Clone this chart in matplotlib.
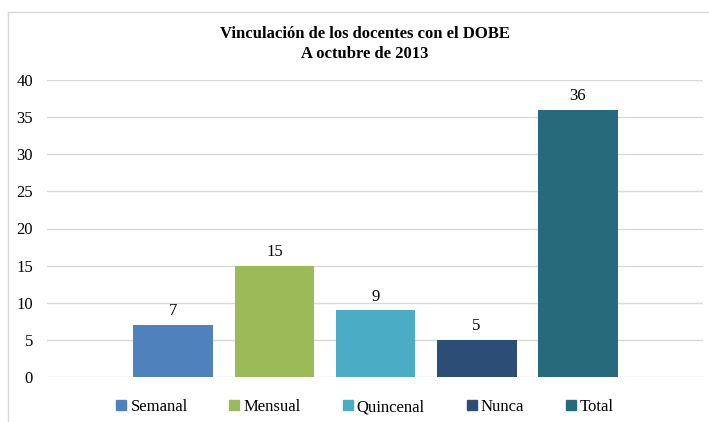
import matplotlib
matplotlib.use("Agg")
import matplotlib.pyplot as plt
from matplotlib.lines import Line2D
from matplotlib.patches import Patch

categories = ["Semanal", "Mensual", "Quincenal", "Nunca", "Total"]
values = [7, 15, 9, 5, 36]
colors = ["#4F81BD", "#9BBB59", "#4BACC6", "#2C4D75", "#276A7C"]
yticks = [0, 5, 10, 15, 20, 25, 30, 35, 40]

plt.rcParams["font.family"] = ["Liberation Serif", "DejaVu Serif"]

fig = plt.figure(figsize=(7.09, 4.22), dpi=100)
ax = fig.add_axes([47 / 709, 1 - 377 / 422, (703 - 47) / 709, (377 - 80) / 422])

xs = list(range(len(categories)))
bars = ax.bar(xs, values, width=0.79, color=colors, zorder=3)
for b, v in zip(bars, values):
    ax.annotate(str(v), (b.get_x() + b.get_width() / 2, v), xytext=(0, 4),
                textcoords="offset points", ha="center", va="bottom", fontsize=12)

ax.set_ylim(0, 40)
ax.set_yticks(yticks)
ax.set_xlim(-1.25, 5.24)
ax.set_xticks([])
ax.yaxis.grid(True, color="#d9d9d9", linewidth=1, zorder=0)
for s in ax.spines.values():
    s.set_visible(False)
ax.tick_params(axis="y", length=0, labelsize=12, pad=10)

fig.text(0.515, 1 - 44 / 422, "Vinculación de los docentes con el DOBE\nA octubre de 2013",
         ha="center", va="center", fontsize=12, fontweight="bold", linespacing=1.3)

handles = [Patch(color=c, label=n) for c, n in zip(colors, categories)]
fig.legend(handles=handles, loc="center", bbox_to_anchor=(0.515, 1 - 407 / 422), ncol=5,
           frameon=False, fontsize=12, handlelength=0.6, handleheight=0.6,
           handletextpad=0.25, columnspacing=2.5)

# chart frame
fig.add_artist(Line2D([8 / 709, 8 / 709], [0, 1 - 12 / 422], color="#d9d9d9", lw=1))
fig.add_artist(Line2D([8 / 709, 1], [1 - 12 / 422, 1 - 12 / 422], color="#d9d9d9", lw=1))

fig.savefig("out.png", dpi=100)
